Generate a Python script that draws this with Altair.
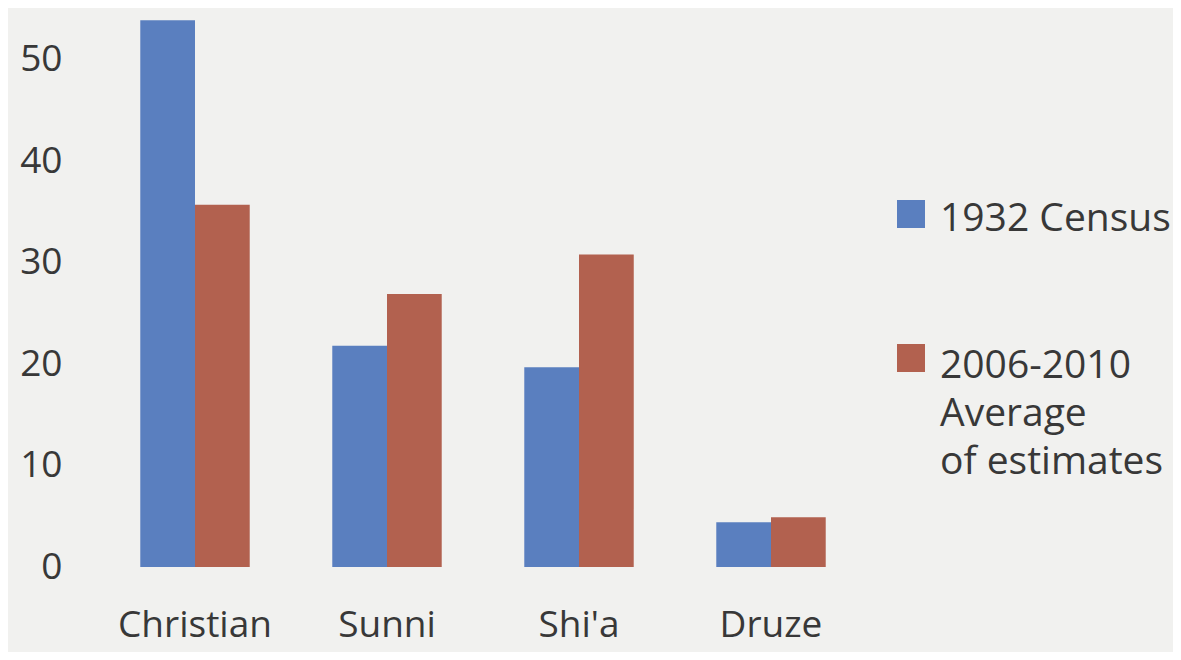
import altair as alt
import pandas as pd

categories = ["Christian", "Sunni", "Shi'a", "Druze"]
series_names = ["1932 Census", "2006-2010"]
census_1932 = [53.9, 21.8, 19.7, 4.4]
estimates_2006_2010 = [35.7, 26.9, 30.8, 4.9]
y_ticks = [0, 10, 20, 30, 40, 50]
legend_labels = [["1932 Census"], ["2006-2010", "Average", "of estimates"]]
colors = ["#5a7fbf", "#b2614f"]

rows = []
for c, v in zip(categories, census_1932):
    rows.append({"religion": c, "series": series_names[0], "value": v})
for c, v in zip(categories, estimates_2006_2010):
    rows.append({"religion": c, "series": series_names[1], "value": v})
df = pd.DataFrame(rows)

FONT = "Open Sans"
TXT = "#383838"
AX_FS = 37
LEG_FS = 39

bars = alt.Chart(df).mark_bar().encode(
    x=alt.X("religion:N", sort=categories, title=None,
            scale=alt.Scale(paddingInner=0.43, paddingOuter=0.215),
            axis=alt.Axis(labelAngle=0, ticks=False, domain=False, labelFontSize=AX_FS,
                          labelFont=FONT, labelColor=TXT, labelPadding=40,
                          labelBaseline="top")),
    xOffset=alt.XOffset("series:N", sort=series_names),
    y=alt.Y("value:Q", title=None, scale=alt.Scale(domain=[0, 55], nice=False),
            axis=alt.Axis(values=y_ticks, grid=False, ticks=False, domain=False,
                          labelFontSize=AX_FS, labelFont=FONT, labelColor=TXT,
                          labelPadding=37)),
    color=alt.Color("series:N", sort=series_names,
                    scale=alt.Scale(domain=series_names, range=colors),
                    legend=None),
)

# Legend (hand-built so that the multi-line entry matches the reference)
leg_layers = []
sym_y = [205, 349]
txt_y = [222, 369]
for i in range(2):
    one = pd.DataFrame({"k": [0]})
    sym = alt.Chart(one).mark_square(size=784, color=colors[i], opacity=1).encode(
        x=alt.value(812), y=alt.value(sym_y[i]))
    txt = alt.Chart(one).mark_text(
        align="left", baseline="alphabetic", font=FONT, fontSize=LEG_FS,
        color=TXT, lineHeight=48,
    ).encode(x=alt.value(841), y=alt.value(txt_y[i]),
             text=alt.value(legend_labels[i]))
    leg_layers += [sym, txt]

chart = alt.layer(bars, *leg_layers).properties(
    width=768, height=558,
    autosize=alt.AutoSizeParams(type="none"),
    padding={"left": 91, "top": 1, "right": 306, "bottom": 85},
    background="#f1f1ef",
).configure_view(stroke=None)

chart.save("out.html", embed_options={"renderer": "svg", "actions": False})
